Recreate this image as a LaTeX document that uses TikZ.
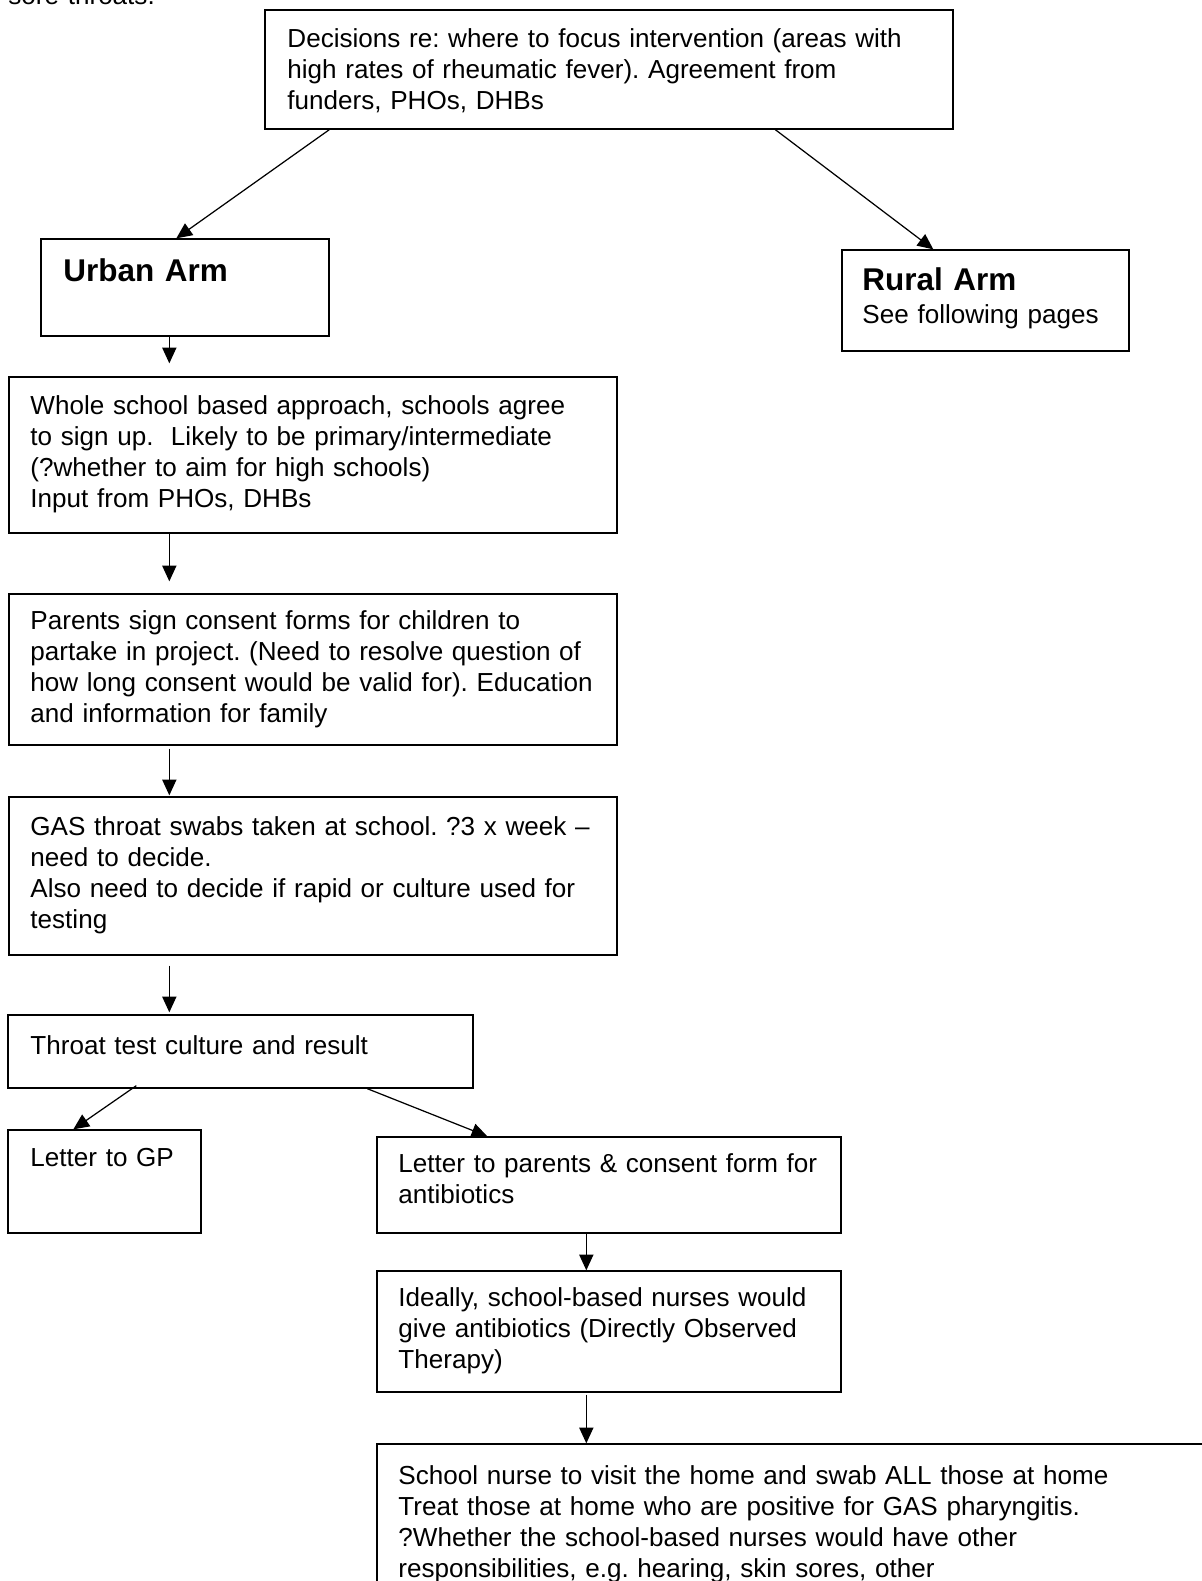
\documentclass[tikz,border=0pt]{standalone}
\usepackage{fontspec}
\setmainfont{Liberation Sans}
\usetikzlibrary{arrows.meta,calc,fit}
\definecolor{rfInk}{HTML}{000000}
\tikzset{
  rf box/.style={draw=rfInk, line width=0.6pt, inner sep=0pt},
  rf text/.style={anchor=base west, inner sep=0pt, align=left, text width=400pt,
    font=\fontsize{11.6}{13.8}\selectfont, text=rfInk},
  rf title/.style={rf text, font=\fontsize{14}{16}\selectfont\bfseries},
  rf arrow/.style={draw=rfInk, line width=0.55pt, -{Triangle[length=7pt,width=6.3pt]}},
}
\frenchspacing

\begin{document}
\begin{tikzpicture}[x=0.445pt,y=-0.445pt]
  \useasboundingbox (0,0) rectangle (1202,1581);
  % tail of the previous page text
  \node[rf text] (soreT) at (8,4) {sore throats.};
  % boxes
  \node[rf box, fit={(265,10) (953,129)}] (top) {};
  \node[rf box, fit={(41,239) (329,336)}] (urban) {};
  \node[rf box, fit={(842,250) (1129,351)}] (rural) {};
  \node[rf box, fit={(9,377) (617,533)}] (school) {};
  \node[rf box, fit={(9,594) (617,745)}] (consent) {};
  \node[rf box, fit={(9,797) (617,955)}] (swab) {};
  \node[rf box, fit={(8,1015) (473,1088)}] (result) {};
  \node[rf box, fit={(8,1130) (201,1233)}] (gp) {};
  \node[rf box, fit={(377,1137) (841,1233)}] (parents) {};
  \node[rf box, fit={(377,1271) (841,1392)}] (nurses) {};
  \node[rf box, fit={(377,1444) (1240,1640)}] (home) {};
  % texts
  \node[rf text] (topT) at (287,47) {Decisions re: where to focus intervention (areas with\\
    high rates of rheumatic fever). Agreement from\\ funders, PHOs, DHBs};
  \node[rf title] (urbanT) at (63,281) {Urban Arm};
  \node[rf title] (ruralT) at (862,290) {Rural Arm};
  \node[rf text] (ruralS) at (862,323) {See following pages};
  \node[rf text] (schoolT) at (30,414) {Whole school based approach, schools agree\\
    to sign up.\ \ Likely to be primary/intermediate\\ (?whether to aim for high schools)\\
    Input from PHOs, DHBs};
  \node[rf text] (consentT) at (30,629) {Parents sign consent forms for children to\\
    partake in project. (Need to resolve question of\\ how long consent would be valid for). Education\\
    and information for family};
  \node[rf text] (swabT) at (30,835) {GAS throat swabs taken at school. ?3 x week --\\
    need to decide.\\ Also need to decide if rapid or culture used for\\ testing};
  \node[rf text] (resultT) at (30,1054) {Throat test culture and result};
  \node[rf text] (gpT) at (30,1166) {Letter to GP};
  \node[rf text] (parentsT) at (398,1172) {Letter to parents \& consent form for\\ antibiotics};
  \node[rf text] (nursesT) at (398,1306) {Ideally, school-based nurses would\\
    give antibiotics (Directly Observed\\ Therapy)};
  \node[rf text] (homeT) at (398,1484) {School nurse to visit the home and swab ALL those at home\\
    Treat those at home who are positive for GAS pharyngitis.\\
    ?Whether the school-based nurses would have other\\
    responsibilities, e.g. hearing, skin sores, other};
  % connectors
  \draw[rf arrow] ($(top.south west)+(65,0)$) -- ($(urban.north west)+(136,0)$);
  \draw[rf arrow] ($(top.south west)+(511,0)$) -- ($(rural.north west)+(92,0)$);
  \draw[rf arrow] ($(urban.south west)+(129,0)$) -- ($(school.north west)+(161,-13)$);
  \draw[rf arrow] ($(school.south west)+(161,0)$) -- ($(consent.north west)+(161,-12)$);
  \draw[rf arrow] ($(consent.south west)+(161,3)$) -- ($(swab.north west)+(161,-1)$);
  \draw[rf arrow] ($(swab.south west)+(161,10)$) -- ($(result.north west)+(162,-2)$);
  \draw[rf arrow] ($(result.south west)+(129,-3)$) -- ($(gp.north west)+(66,0)$);
  \draw[rf arrow] ($(result.south west)+(360,0)$) -- ($(parents.north west)+(111,0)$);
  \draw[rf arrow] ($(parents.south west)+(210,0)$) -- ($(nurses.north west)+(210,0)$);
  \draw[rf arrow] ($(nurses.south west)+(210,2)$) -- ($(home.north west)+(210,0)$);
\end{tikzpicture}
\end{document}
